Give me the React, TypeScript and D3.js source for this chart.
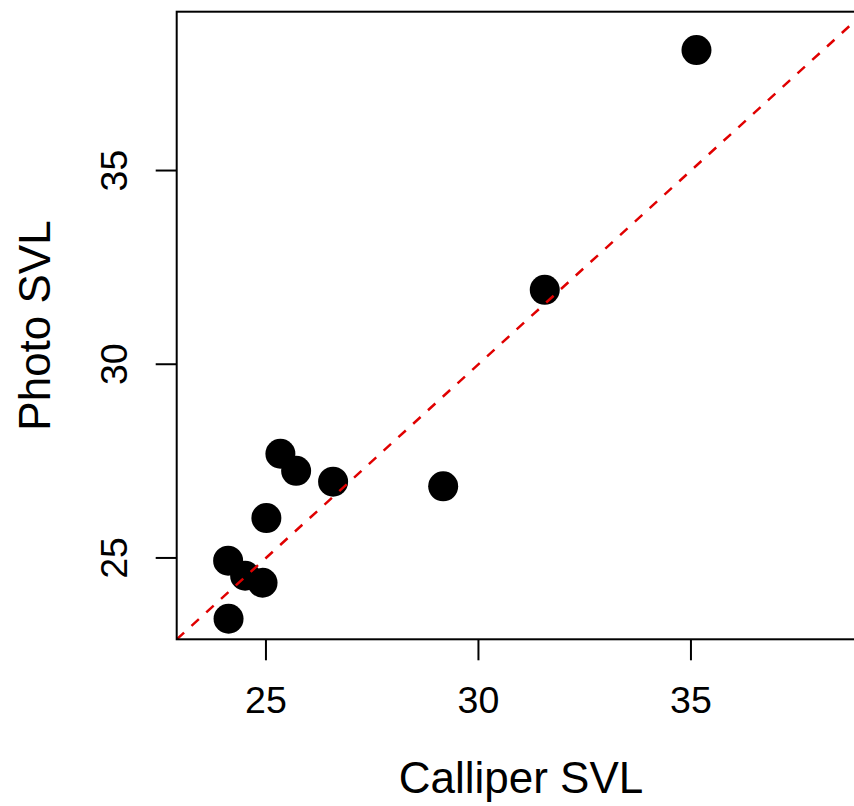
import React from "react";
import * as d3 from "d3";

const calliperSVL = [25.34, 25.71, 26.58, 29.17, 25.01, 24.11, 24.51, 24.92, 24.12, 31.56, 35.13];
const photoSVL = [27.69, 27.25, 26.97, 26.85, 26.03, 24.93, 24.54, 24.36, 23.43, 31.92, 38.11];
const xTicks = [25, 30, 35];
const yTicks = [25, 30, 35];
const axisMin = 22.9;
const axisMax = 39.1;

const W = 854;
const H = 806;
const left = 176.7;
const right = 865.2;
const top = 11.7;
const bottom = 639.3;
const font = "'Liberation Sans', Arial, Helvetica, sans-serif";

export default function App() {
  const x = d3.scaleLinear().domain([axisMin, axisMax]).range([left, right]);
  const y = d3.scaleLinear().domain([axisMin, axisMax]).range([bottom, top]);
  const pts = calliperSVL.map((c, i) => ({ c, p: photoSVL[i] }));
  const line = d3.line<number>().x((d) => x(d)).y((d) => y(d));

  return (
    <svg
      width={W}
      height={H}
      style={{ position: "absolute", left: 0, top: 0, background: "#fff" }}
    >
      <defs>
        <clipPath id="plotclip">
          <rect x={left} y={top} width={right - left} height={bottom - top} />
        </clipPath>
      </defs>
      <rect x={0} y={0} width={W} height={H} fill="#fff" />
      <g clipPath="url(#plotclip)">
        {pts.map((d, i) => (
          <circle key={i} cx={x(d.c)} cy={y(d.p)} r={15} fill="#000" />
        ))}
        <path
          d={line([axisMin, axisMax]) || ""}
          stroke="#e00000"
          strokeWidth={2.5}
          strokeDasharray="10 10"
          fill="none"
        />
      </g>
      <rect
        x={left}
        y={top}
        width={right - left}
        height={bottom - top}
        fill="none"
        stroke="#000"
        strokeWidth={2}
      />
      {xTicks.map((t) => (
        <g key={"x" + t}>
          <line x1={x(t)} x2={x(t)} y1={bottom} y2={bottom + 21} stroke="#000" strokeWidth={2} />
          <text
            x={x(t)}
            y={713}
            textAnchor="middle"
            fontFamily={font}
            fontSize={37.5}
            fill="#000"
          >
            {t}
          </text>
        </g>
      ))}
      {yTicks.map((t) => (
        <g key={"y" + t}>
          <line x1={left - 21} x2={left} y1={y(t)} y2={y(t)} stroke="#000" strokeWidth={2} />
          <text
            transform={`translate(127,${y(t)}) rotate(-90)`}
            textAnchor="middle"
            fontFamily={font}
            fontSize={37.5}
            fill="#000"
          >
            {t}
          </text>
        </g>
      ))}
      <text
        x={(left + right) / 2}
        y={793}
        textAnchor="middle"
        fontFamily={font}
        fontSize={44}
        fill="#000"
      >
        Calliper SVL
      </text>
      <text
        transform={`translate(50,${(top + bottom) / 2}) rotate(-90)`}
        textAnchor="middle"
        fontFamily={font}
        fontSize={44}
        fill="#000"
      >
        Photo SVL
      </text>
    </svg>
  );
}
